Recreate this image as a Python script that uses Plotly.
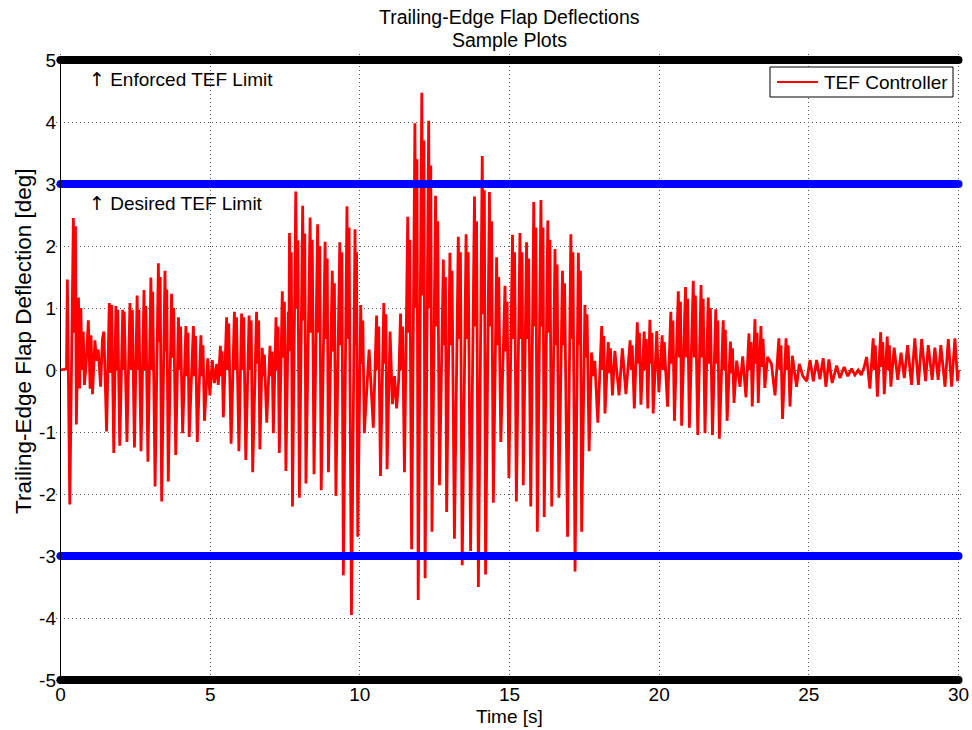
import plotly.graph_objects as go

# Trailing-edge flap deflection history, given as its turning points
t_pts = [
    # 0 - 3.3 s
    0.00, 0.20, 0.23, 0.31, 0.43, 0.47, 0.50, 0.53, 0.60, 0.64, 0.68, 0.72, 0.76, 0.80, 0.85,
    0.93, 0.99, 1.02, 1.07, 1.15, 1.20, 1.26, 1.34, 1.40, 1.45, 1.54, 1.63, 1.67, 1.71, 1.78,
    1.85, 1.89, 1.91, 1.98, 2.08, 2.11, 2.13, 2.22, 2.32, 2.37, 2.40, 2.47, 2.56, 2.60, 2.62,
    2.69, 2.79, 2.82, 2.85, 2.92, 3.02, 3.06, 3.08, 3.16,
    # 3.3 - 6.7 s
    3.27, 3.30, 3.33, 3.38, 3.49, 3.53, 3.55, 3.60, 3.71, 3.745, 3.78, 3.85,
    3.94, 3.975, 4.01, 4.08, 4.19, 4.225, 4.26, 4.30, 4.44, 4.475, 4.51, 4.57,
    4.69, 4.725, 4.76, 4.81, 4.92, 4.99, 5.07, 5.14, 5.22, 5.27,
    5.34, 5.375, 5.40, 5.44, 5.55, 5.585, 5.62, 5.70, 5.81, 5.845, 5.88, 5.96,
    6.05, 6.085, 6.12, 6.19, 6.30, 6.335, 6.37, 6.42, 6.55, 6.585, 6.62, 6.66,
    # 6.7 - 10 s
    6.74, 6.775, 6.81, 6.89, 7.00, 7.035, 7.07, 7.11, 7.20, 7.235, 7.27, 7.31,
    7.41, 7.445, 7.48, 7.53, 7.61, 7.63, 7.65, 7.685, 7.71, 7.75,
    7.86, 7.895, 7.93, 7.98, 8.09, 8.125, 8.16, 8.20, 8.34, 8.375, 8.41, 8.47,
    8.59, 8.625, 8.66, 8.71, 8.84, 8.875, 8.91, 8.95, 9.08, 9.115, 9.15, 9.20,
    9.33, 9.365, 9.40, 9.45, 9.57, 9.605, 9.64, 9.72, 9.84, 9.87, 9.89, 9.93,
    # 10 - 13.4 s
    10.03, 10.065, 10.10, 10.15, 10.31, 10.45, 10.56, 10.595, 10.63, 10.69,
    10.80, 10.835, 10.87, 10.91, 11.01, 11.09, 11.16, 11.23, 11.30,
    11.36, 11.395, 11.43, 11.49, 11.60, 11.635, 11.67, 11.73, 11.84, 11.875, 11.91, 11.95,
    12.07, 12.105, 12.14, 12.18, 12.30, 12.335, 12.37, 12.41, 12.53, 12.565, 12.60, 12.66,
    12.79, 12.825, 12.86, 12.90, 13.01, 13.045, 13.08, 13.16, 13.29, 13.325, 13.36, 13.42,
    # 13.4 - 16.7 s
    13.55, 13.585, 13.62, 13.70, 13.83, 13.865, 13.90, 13.96, 14.09, 14.125, 14.16, 14.20,
    14.33, 14.365, 14.40, 14.46, 14.57, 14.605, 14.64, 14.71, 14.85, 14.885, 14.92, 14.98,
    15.10, 15.135, 15.17, 15.23, 15.35, 15.385, 15.42, 15.46, 15.57, 15.605, 15.64, 15.71,
    15.81, 15.845, 15.88, 15.93, 16.05, 16.085, 16.12, 16.16, 16.28, 16.315, 16.35, 16.41,
    16.52, 16.555, 16.59, 16.65,
    # 16.7 - 20 s
    16.77, 16.805, 16.84, 16.94, 17.05, 17.085, 17.12, 17.19, 17.30, 17.335, 17.37, 17.41,
    17.52, 17.555, 17.59, 17.66, 17.74, 17.80, 17.85, 17.95,
    18.08, 18.115, 18.15, 18.19, 18.30, 18.335, 18.37, 18.44, 18.52, 18.66, 18.77, 18.89,
    19.03, 19.065, 19.10, 19.17, 19.27, 19.305, 19.34, 19.39, 19.50, 19.535, 19.57, 19.62,
    19.69, 19.725, 19.76, 19.80, 19.92, 19.99,
    # 20 - 23.3 s
    20.10, 20.135, 20.17, 20.28, 20.39, 20.425, 20.46, 20.51, 20.64, 20.675, 20.71, 20.75,
    20.88, 20.915, 20.95, 21.01, 21.14, 21.175, 21.21, 21.29, 21.40, 21.435, 21.47, 21.53,
    21.64, 21.675, 21.71, 21.78, 21.89, 21.925, 21.96, 22.01, 22.14, 22.175, 22.21, 22.27,
    22.38, 22.415, 22.45, 22.50, 22.59, 22.70, 22.79, 22.90,
    23.00, 23.035, 23.07, 23.11, 23.20, 23.235, 23.27, 23.31,
    # 23.3 - 26.7 s
    23.40, 23.435, 23.47, 23.53, 23.62, 23.75, 23.87, 24.00, 24.035, 24.07, 24.12,
    24.24, 24.275, 24.31, 24.37, 24.45, 24.59, 24.68, 24.80,
    24.93, 25.04, 25.15, 25.26, 25.37, 25.48, 25.57, 25.67, 25.78, 25.93, 26.04, 26.18, 26.30,
    26.43, 26.54, 26.65,
    # 26.7 - 30 s
    26.75, 26.85, 26.93, 27.04, 27.15, 27.185, 27.22, 27.29, 27.40, 27.435, 27.47, 27.52,
    27.62, 27.655, 27.69, 27.74, 27.85, 27.97, 28.08,
    28.19, 28.30, 28.43, 28.54, 28.66, 28.77, 28.90, 28.99, 29.12, 29.21, 29.32, 29.41, 29.55,
    29.66, 29.77, 29.88, 29.97, 30.00,
]
v_pts = [
    # 0 - 3.3 s
    0.00, 0.02, 1.46, -2.17, 2.45, 0.60, 2.32, -0.88, 1.17, -0.30, 1.00, 0.00, 0.62, -0.24, 0.05,
    0.80, -0.30, 0.56, -0.39, 0.48, 0.15, 0.33, -0.27, 0.50, 0.62, -0.99, 1.08, -0.05, 1.05, -1.34,
    1.03, 0.00, 0.97, -1.22, 0.97, 0.00, 0.94, -1.16, 1.08, 0.00, 0.97, -1.25, 1.20, 0.00, 0.97,
    -1.31, 1.29, 0.00, 1.03, -1.48, 1.49, 0.00, 1.26, -1.88,
    # 3.3 - 6.7 s
    1.72, 0.45, 1.50, -2.12, 1.60, 0.30, 1.30, -1.80, 1.23, 0.20, 1.00, -1.37,
    0.85, 0.00, 0.70, -1.02, 0.71, -0.10, 0.60, -1.08, 0.71, -0.10, 0.55, -1.16,
    0.56, -0.10, 0.40, -0.82, 0.19, -0.41, 0.16, -0.21, 0.10, -0.24,
    0.39, -0.10, 0.30, -0.76, 0.85, 0.00, 0.75, -1.19, 0.94, 0.00, 0.85, -1.31,
    0.91, 0.00, 0.85, -1.45, 0.88, 0.00, 0.80, -1.65, 0.94, 0.10, 0.80, -1.28,
    # 6.7 - 10 s
    0.36, -0.10, 0.25, -0.85, 0.39, -0.10, 0.30, -1.02, 0.85, 0.00, 0.70, -1.34,
    1.27, 0.20, 1.10, -1.63, 0.94, 0.30, 2.21, 0.50, 1.90, -2.20,
    2.88, 1.00, 2.09, -2.06, 2.65, 0.80, 2.20, -1.83, 2.46, 0.60, 2.10, -1.68,
    2.35, 0.60, 2.00, -1.94, 2.07, 0.50, 1.80, -1.65, 1.60, 0.30, 1.40, -2.03,
    2.06, 0.40, 1.90, -3.31, 2.64, 0.50, 2.30, -3.95, 2.27, 0.40, 1.90, -2.69,
    # 10 - 13.4 s
    1.05, 0.10, 0.80, -1.02, 0.33, -0.93, 0.88, 0.00, 0.70, -1.71,
    1.08, 0.10, 0.90, -1.60, 0.62, -0.55, -0.10, -0.62, -0.15,
    0.91, 0.00, 0.70, -1.65, 2.47, 0.60, 2.10, -2.89, 3.98, 1.00, 3.40, -3.71,
    4.47, 1.20, 3.70, -3.36, 4.02, 1.00, 3.30, -2.61, 2.81, 0.70, 2.40, -1.86,
    1.78, 0.40, 1.50, -2.29, 1.89, 0.40, 1.60, -2.72, 2.15, 0.50, 1.90, -3.15,
    # 13.4 - 16.7 s
    2.19, 0.50, 1.90, -2.92, 2.80, 0.70, 2.40, -3.50, 3.45, 0.90, 2.90, -3.30,
    2.87, 0.70, 2.40, -2.14, 1.82, 0.40, 1.50, -1.16, 1.36, 0.30, 1.10, -1.74,
    2.18, 0.50, 1.90, -2.12, 2.21, 0.50, 1.90, -1.86, 2.06, 0.50, 1.80, -2.20,
    2.71, 0.70, 2.30, -2.61, 2.74, 0.70, 2.30, -2.37, 2.41, 0.60, 2.10, -2.20,
    1.95, 0.40, 1.70, -2.06,
    # 16.7 - 20 s
    1.60, 0.40, 1.40, -2.69, 2.19, 0.50, 1.90, -3.25, 1.89, 0.40, 1.60, -2.61,
    1.05, 0.20, 0.90, -1.31, 0.28, -0.10, 0.15, -0.85,
    0.71, 0.00, 0.55, -0.70, 0.45, -0.05, 0.35, -0.41, 0.31, -0.41, 0.35, -0.39,
    0.48, 0.00, 0.40, -0.62, 0.77, 0.10, 0.60, -0.56, 0.62, 0.00, 0.50, -0.62,
    0.81, 0.10, 0.60, -0.70, 0.63, -0.36,
    # 20 - 23.3 s
    0.56, 0.00, 0.45, -0.59, 0.94, 0.10, 0.80, -0.82, 1.27, 0.20, 1.10, -0.90,
    1.34, 0.20, 1.15, -0.93, 1.44, 0.20, 1.20, -1.05, 1.37, 0.20, 1.15, -1.02,
    1.17, 0.10, 1.00, -1.05, 0.98, 0.10, 0.80, -1.11, 0.80, 0.00, 0.65, -0.82,
    0.46, -0.05, 0.35, -0.53, 0.15, -0.27, 0.22, -0.44,
    0.59, 0.00, 0.45, -0.59, 0.82, 0.10, 0.60, -0.53,
    # 23.3 - 26.7 s
    0.71, 0.05, 0.50, -0.29, 0.21, 0.10, -0.41, 0.51, 0.00, 0.40, -0.79,
    0.51, 0.00, 0.40, -0.59, 0.23, -0.27, 0.10, -0.10,
    -0.18, 0.16, -0.18, 0.16, -0.15, 0.19, -0.27, 0.17, -0.21, 0.07, -0.13, 0.05, -0.10,
    0.02, -0.08, 0.00,
    # 26.7 - 30 s
    -0.08, 0.05, 0.21, -0.30, 0.51, 0.00, 0.40, -0.43, 0.61, 0.05, 0.45, -0.39,
    0.54, 0.00, 0.40, -0.27, 0.36, -0.16, 0.28,
    -0.13, 0.40, -0.24, 0.51, -0.24, 0.50, -0.18, 0.40, -0.16, 0.36, -0.16, 0.40, -0.27,
    0.50, -0.27, 0.51, -0.18, 0.00,
]

enforced_limit = 5.0
desired_limit = 3.0
x_ticks = [0, 5, 10, 15, 20, 25, 30]
y_ticks = [-5, -4, -3, -2, -1, 0, 1, 2, 3, 4, 5]
t_span = [0, 30]
series_name = "TEF Controller"
series_color = "#ff0000"

FONT = "Liberation Sans, Arial, Helvetica, sans-serif"
ARROW_FONT = "DejaVu Sans"
FS = 19

# Plot-area geometry in pixels (margins l=56, r=9, t=54, b=44 on 972x730)
PX_L, PX_W, PX_B, PX_H = 56, 907, 686, 632


def px_x(px):
    return (px - PX_L) / PX_W


def px_y(py):
    return (PX_B - py) / PX_H


def up_arrow_label(text):
    return f"<span style='font-family:{ARROW_FONT}'>\u2191</span> {text}"


fig = go.Figure()

fig.add_trace(go.Scatter(
    x=t_pts, y=v_pts, mode="lines", name=series_name, showlegend=False,
    line=dict(color=series_color, width=2.8), hoverinfo="skip",
))

# Limit lines drawn on top of the response
for lim, col in [(desired_limit, "#0000ff"), (enforced_limit, "#000000")]:
    for sgn in (1, -1):
        fig.add_trace(go.Scatter(
            x=t_span, y=[sgn * lim, sgn * lim], mode="lines+markers",
            line=dict(color=col, width=8), marker=dict(color=col, size=8),
            showlegend=False, hoverinfo="skip",
        ))

axis_style = dict(showgrid=True, gridcolor="#555555", griddash="1px,3px", gridwidth=1,
                  zeroline=False, showline=False, ticks="", automargin=False,
                  tickfont=dict(family=FONT, size=FS, color="#000"))

# Legend box, drawn as a framed key in the upper right of the axes
legend_shapes = [
    dict(type="rect", xref="paper", yref="paper", x0=px_x(770), x1=px_x(953),
         y0=px_y(97), y1=px_y(67), fillcolor="white", line=dict(color="#000", width=1),
         layer="above"),
    dict(type="line", xref="paper", yref="paper", x0=px_x(777), x1=px_x(818),
         y0=px_y(82), y1=px_y(82), line=dict(color=series_color, width=2), layer="above"),
]

fig.update_layout(
    width=972, height=730,
    margin=dict(l=56, r=9, t=54, b=44),
    paper_bgcolor="white", plot_bgcolor="white",
    font=dict(family=FONT, size=FS, color="#000"),
    showlegend=False,
    xaxis=dict(range=[-0.1503, 30.1503], tickvals=x_ticks,
               ticktext=[str(v) for v in x_ticks], ticklabelstandoff=-5, **axis_style),
    yaxis=dict(range=[-5.0968, 5.0968], tickvals=y_ticks,
               ticktext=[str(v) for v in y_ticks], ticklabelstandoff=-1, **axis_style),
    shapes=[dict(type="line", xref="x", yref="y", x0=0, x1=0, y0=-5, y1=5,
                 line=dict(color="#000", width=1))] + legend_shapes,
    annotations=[
        dict(text="Trailing-Edge Flap Deflections", xref="paper", yref="paper",
             x=0.5, y=px_y(17), xanchor="center", yanchor="middle", showarrow=False,
             font=dict(family=FONT, size=19.5, color="#000")),
        dict(text="Sample Plots", xref="paper", yref="paper",
             x=0.5, y=px_y(40), xanchor="center", yanchor="middle", showarrow=False,
             font=dict(family=FONT, size=19.5, color="#000")),
        dict(text="Time [s]", xref="paper", yref="paper", x=0.5, y=px_y(716),
             xanchor="center", yanchor="middle", showarrow=False,
             font=dict(family=FONT, size=FS, color="#000")),
        dict(text="Trailing-Edge Flap Deflection [deg]", xref="paper", yref="paper",
             x=px_x(23), y=px_y(341), xanchor="center", yanchor="middle", textangle=-90,
             showarrow=False, font=dict(family=FONT, size=22.5, color="#000")),
        dict(text=up_arrow_label("Enforced TEF Limit"), xref="x", yref="y", x=0.9, y=4.7,
             xanchor="left", yanchor="middle", showarrow=False,
             font=dict(family=FONT, size=FS, color="#000")),
        dict(text=up_arrow_label("Desired TEF Limit"), xref="x", yref="y", x=0.9, y=2.7,
             xanchor="left", yanchor="middle", showarrow=False,
             font=dict(family=FONT, size=FS, color="#000")),
        dict(text=series_name, xref="paper", yref="paper", x=px_x(822), y=px_y(82),
             xanchor="left", yanchor="middle", showarrow=False,
             font=dict(family=FONT, size=FS, color="#000")),
    ],
)

fig.write_html("out.html")
